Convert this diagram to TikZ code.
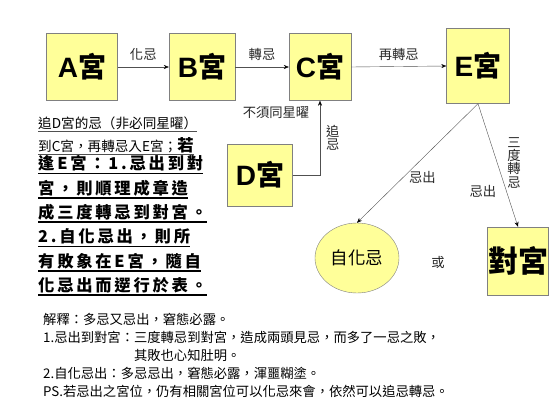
\documentclass[tikz,border=0pt]{standalone}
\usepackage{fontspec}
\setmainfont{Liberation Sans}
\newfontfamily\cjk{Noto Sans CJK TC}
\newfontfamily\cjkwide{Noto Sans CJK TC}[LetterSpace=17]
\usetikzlibrary{arrows.meta,shapes.geometric}
\definecolor{gongfill}{RGB}{255,255,153}
\definecolor{gongline}{RGB}{128,128,128}
\definecolor{linegray}{RGB}{80,80,80}
\newcommand\ulline[2][1.6pt]{\setbox0\hbox{#2}\leavevmode\rlap{\copy0}\rule[-4.5pt]{\wd0}{#1}}
\newcommand\ullinethin[1]{\setbox0\hbox{#1}\leavevmode\rlap{\copy0}{\color{linegray}\rule[-3pt]{\wd0}{0.8pt}}}
\newcommand\smallcjk{\cjk\mdseries\fontsize{13.6}{13.6}\selectfont}

\begin{document}
\begin{tikzpicture}[x=1pt,y=-1pt,
    gong/.style={draw=gongline,fill=gongfill,inner sep=0pt},
    big/.style={font=\fontsize{28}{28}\selectfont},
    lbl/.style={font=\cjk\fontsize{13.3}{13.3}\selectfont,text=black!85,inner sep=1pt},
    arr/.style={draw=linegray,-{Stealth[length=5pt,width=4pt,black]}}]

        \useasboundingbox (0,0) rectangle (560,420);

        % the palaces
        \node[gong,big,minimum width=71pt,minimum height=67pt] (A) at (82,67) {\bfseries A\cjk 宮};
        \node[gong,big,minimum width=66pt,minimum height=67pt] (B) at (202,67) {\bfseries B\cjk 宮};
        \node[gong,big,minimum width=62pt,minimum height=67pt] (C) at (320,67) {\bfseries C\cjk 宮};
        \node[gong,big,minimum width=63pt,minimum height=75pt] (E) at (478,66) {\bfseries E\cjk 宮};
        \node[gong,big,minimum width=65pt,minimum height=62pt] (D) at (260,175) {\bfseries D\cjk 宮};
        \node[gong,minimum width=61pt,minimum height=68pt,font=\cjk\bfseries\fontsize{30}{30}\selectfont] (dui) at (518,261) {對宮};
        \node[gong,ellipse,minimum width=84pt,minimum height=70pt,font=\cjk\fontsize{17.5}{17.5}\selectfont] (zihua) at (357,258) {自化忌};

        % connectors
        \draw[arr] (A.east) -- node[lbl,above=5pt] {化忌} (B.west);
        \draw[arr] (B.east) -- node[lbl,above=5pt] {轉忌} (C.west);
        \draw[arr] (C.east) -- node[lbl,above=5pt] {再轉忌} (E.west);
        \draw[arr] (D.east) -| node[lbl,pos=0.75,right=5pt,align=center,font=\cjk\fontsize{13.3}{13.3}\selectfont] {追\\忌} (C.south);
        \draw[arr] (E.south) -- node[lbl,pos=0.62,right=5pt] {忌出} (zihua.north);
        \draw[arr] (E.south) -- node[lbl,pos=0.71,left=9pt] {忌出}
            node[lbl,pos=0.48,right=9pt,align=center,font=\cjk\fontsize{13.3}{13.3}\selectfont] {三\\度\\轉\\忌} (dui.north);

        \node[lbl] (xutong) at (276,113) {不須同星曜};
        \node[lbl] (huo) at (438,262) {或};

        % the note on the left
        \node[anchor=north west,inner sep=0pt,align=left,font=\cjkwide\bfseries\fontsize{16.3}{24.3}\selectfont] (zhui) at (38,117) {%
            \ullinethin{\smallcjk 追D宮的忌（非必同星曜）}\\[-1.3pt]
            \ullinethin{{\smallcjk 到C宮，再轉忌入E宮；}若}\\[-6.3pt]
            \ulline{逢E宮：1.忌出到對}\\
            \ulline{宮，則順理成章造}\\
            \ulline{成三度轉忌到對宮。}\\
            \ulline{2.自化忌出，則所}\\
            \ulline{有敗象在E宮，隨自}\\
            \ulline{化忌出而遻行於表。}};

        % the explanation below
        \node[anchor=north west,inner sep=0pt,align=left,font=\cjk\fontsize{13.3}{18}\selectfont] (jieshi) at (43,313) {%
            解釋：多忌又忌出，窘態必露。\\
            1.忌出到對宮：三度轉忌到對宮，造成兩頭見忌，而多了一忌之敗，\\
            \phantom{1.忌出到對宮：}其敗也心知肚明。\\
            2.自化忌出：多忌忌出，窘態必露，渾噩糊塗。\\
            PS.若忌出之宮位，仍有相關宮位可以化忌來會，依然可以追忌轉忌。};

\end{tikzpicture}
\end{document}
